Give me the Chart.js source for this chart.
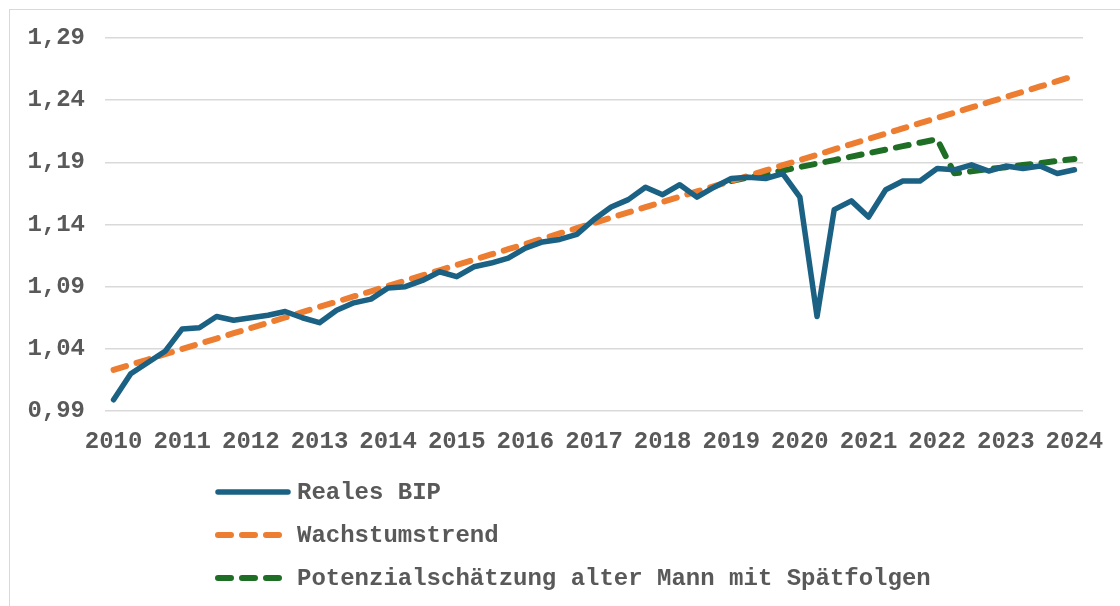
<!DOCTYPE html>
<html>
<head>
<meta charset="utf-8">
<script src="https://cdn.jsdelivr.net/npm/chart.js@4/dist/chart.umd.min.js"></script>
<style>
    html, body { margin: 0; padding: 0; background: #fff; }
    #wrap { position: relative; width: 1120px; height: 606px; overflow: hidden; }
    #frame { position: absolute; left: 9px; top: 9px; width: 1300px; height: 800px; border: 1px solid #d9d9d9; }
    #bipChart { position: absolute; left: 0; top: 0; }
</style>
</head>
<body>
<div id="wrap">
    <div id="frame"></div>
    <canvas id="bipChart" width="1120" height="606"></canvas>
</div>
<script>
// years shown on the axis (one label per Q1), last point is 2024 Q1
const years = [2010, 2011, 2012, 2013, 2014, 2015, 2016, 2017, 2018, 2019, 2020, 2021, 2022, 2023, 2024];
const yTicks = [0.99, 1.04, 1.09, 1.14, 1.19, 1.24, 1.29];

const realesBIP = [
    0.999, 1.020, 1.029, 1.038, 1.056, 1.057, 1.066, 1.063,
    1.065, 1.067, 1.070, 1.065, 1.061, 1.071, 1.077, 1.080,
    1.089, 1.090, 1.095, 1.102, 1.098, 1.106, 1.109, 1.113,
    1.121, 1.126, 1.128, 1.132, 1.144, 1.154, 1.160, 1.170,
    1.164, 1.172, 1.162, 1.170, 1.177, 1.178, 1.177, 1.181,
    1.162, 1.066, 1.152, 1.159, 1.146, 1.168, 1.175, 1.175,
    1.185, 1.184, 1.188, 1.183, 1.187, 1.185, 1.187, 1.181,
    1.184
];

const wachstumstrend = [
    1.0230, 1.0272, 1.0314, 1.0357, 1.0399, 1.0441, 1.0483, 1.0526,
    1.0568, 1.0610, 1.0652, 1.0695, 1.0737, 1.0779, 1.0821, 1.0863,
    1.0906, 1.0948, 1.0990, 1.1032, 1.1075, 1.1117, 1.1159, 1.1201,
    1.1244, 1.1286, 1.1328, 1.1370, 1.1412, 1.1455, 1.1497, 1.1539,
    1.1581, 1.1624, 1.1666, 1.1708, 1.1750, 1.1793, 1.1835, 1.1877,
    1.1919, 1.1961, 1.2004, 1.2046, 1.2088, 1.2130, 1.2173, 1.2215,
    1.2257, 1.2299, 1.2342, 1.2384, 1.2426, 1.2468, 1.2510, 1.2553,
    1.2595
];

const potenzial = [
    null, null, null, null, null, null, null, null,
    null, null, null, null, null, null, null, null,
    null, null, null, null, null, null, null, null,
    null, null, null, null, null, null, null, null,
    null, null, null, null, 1.1750, 1.1778, 1.1806, 1.1834,
    1.1862, 1.1890, 1.1918, 1.1946, 1.1974, 1.2002, 1.2030, 1.2058,
    1.2086, 1.1812, 1.1828, 1.1845, 1.1861, 1.1878, 1.1894, 1.1911,
    1.1927
];

// quarter categories built from the years
const quarterLabels = [];
years.forEach(y => {
    for (let q = 1; q <= 4; q++) {
        if (y === 2024 && q > 1) break;
        quarterLabels.push(q === 1 ? String(y) : y + " Q" + q);
    }
});

const textColor = "#595959";
const monoFont = { family: "'Liberation Mono', 'Courier New', monospace", size: 24, weight: "bold" };

// legend stacked below the plot, one entry per row
const stackedLegend = {
    id: "stackedLegend",
    afterDraw(chart) {
        const ctx = chart.ctx;
        ctx.save();
        chart.data.datasets.forEach((ds, k) => {
            const y = 492 + k * 43;
            ctx.beginPath();
            ctx.strokeStyle = ds.borderColor;
            ctx.lineWidth = ds.borderWidth;
            ctx.lineCap = "round";
            ctx.setLineDash(ds.borderDash || []);
            ctx.moveTo(218, y);
            ctx.lineTo(288, y);
            ctx.stroke();
            ctx.setLineDash([]);
            ctx.fillStyle = textColor;
            ctx.font = "bold 24px 'Liberation Mono', 'Courier New', monospace";
            ctx.textBaseline = "middle";
            ctx.fillText(ds.label, 297, y + 1);
        });
        ctx.restore();
    }
};

new Chart(document.getElementById("bipChart"), {
    type: "line",
    data: {
        labels: quarterLabels,
        datasets: [{
            label: "Reales BIP",
            data: realesBIP,
            borderColor: "#1b6184",
            borderWidth: 5.5,
            borderJoinStyle: "round",
            borderCapStyle: "round"
        }, {
            label: "Wachstumstrend",
            data: wachstumstrend,
            borderColor: "#ed7d31",
            borderWidth: 6,
            borderDash: [13, 11],
            borderCapStyle: "round"
        }, {
            label: "Potenzialschätzung alter Mann mit Spätfolgen",
            data: potenzial,
            borderColor: "#1f6e26",
            borderWidth: 6,
            borderDash: [13, 11],
            borderCapStyle: "round",
            borderJoinStyle: "round"
        }]
    },
    options: {
        responsive: false,
        animation: false,
        layout: { padding: { left: 10, top: 38, right: 37, bottom: 150 } },
        elements: { point: { radius: 0 }, line: { tension: 0 } },
        plugins: {
            legend: { display: false },
            tooltip: { enabled: false }
        },
        scales: {
            x: {
                type: "category",
                offset: true,
                grid: { display: false },
                border: { display: false },
                ticks: {
                    autoSkip: false,
                    maxRotation: 0,
                    padding: 9,
                    color: textColor,
                    font: monoFont,
                    callback: (v, i) => (i % 4 === 0 ? quarterLabels[i] : "")
                },
                afterFit: s => { s.height = 45; }
            },
            y: {
                min: 0.99,
                max: 1.29,
                afterBuildTicks: s => { s.ticks = yTicks.map(v => ({ value: v })); },
                grid: { color: "#d9d9d9", lineWidth: 1.5, drawTicks: false },
                border: { display: false },
                ticks: {
                    padding: 20,
                    color: textColor,
                    font: monoFont,
                    callback: v => v.toFixed(2).replace(".", ",")
                },
                afterFit: s => { s.width = 95; }
            }
        }
    },
    plugins: [stackedLegend]
});
</script>
</body>
</html>
